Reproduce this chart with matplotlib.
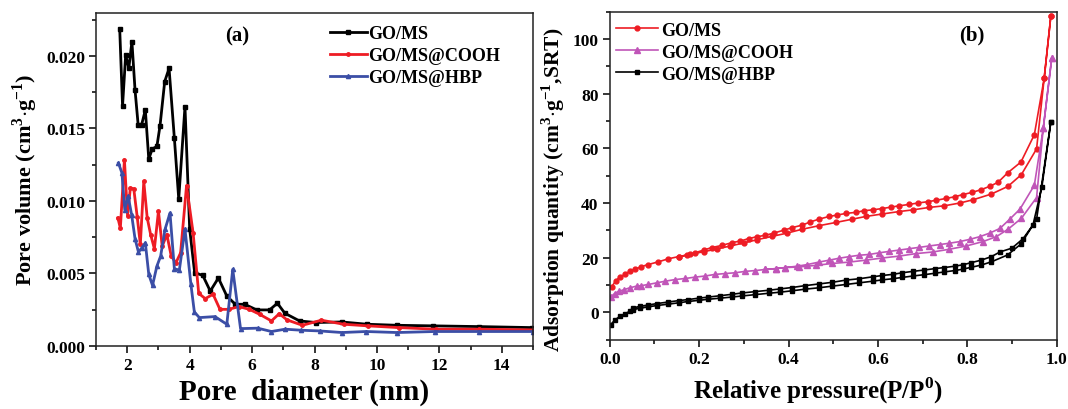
import numpy as np
import matplotlib.pyplot as plt
from matplotlib.ticker import MultipleLocator, FormatStrFormatter

plt.rcParams['font.family'] = 'Liberation Serif'
plt.rcParams['font.weight'] = 'bold'
plt.rcParams['mathtext.fontset'] = 'custom'
plt.rcParams['mathtext.rm'] = 'Liberation Serif:bold'
plt.rcParams['mathtext.bf'] = 'Liberation Serif:bold'

# ---- (a) pore size distribution ----
d_ms = [1.76, 1.85, 1.95, 2.05, 2.15, 2.25, 2.35, 2.46, 2.58, 2.69, 2.80, 2.95, 3.05, 3.20, 3.34,
        3.51, 3.65, 3.85, 4.00, 4.16, 4.42, 4.66, 4.92, 5.19, 5.46, 5.76, 6.15, 6.56, 6.81, 7.05,
        7.52, 8.04, 8.87, 9.69, 10.63, 11.80, 13.26, 14.97]
v_ms = [0.02183, 0.01656, 0.02007, 0.01915, 0.02099, 0.01766, 0.01525, 0.01525, 0.01628, 0.01289,
        0.01358, 0.01376, 0.01518, 0.01823, 0.01915, 0.01433, 0.01014, 0.01651, 0.00807, 0.00505,
        0.00486, 0.00378, 0.00468, 0.00344, 0.00287, 0.00287, 0.00248, 0.00248, 0.00294, 0.00225,
        0.00172, 0.00161, 0.00165, 0.00149, 0.00142, 0.00138, 0.00133, 0.00126]

d_cooh = [1.70, 1.78, 1.91, 2.01, 2.10, 2.21, 2.32, 2.42, 2.53, 2.64, 2.75, 2.87, 3.00, 3.12, 3.27,
          3.41, 3.56, 3.71, 3.90, 4.11, 4.29, 4.50, 4.75, 4.97, 5.25, 5.58, 5.91, 6.24, 6.62, 6.87,
          7.12, 7.61, 8.22, 8.94, 9.71, 10.70, 11.89, 13.28, 14.99]
v_cooh = [0.00883, 0.00812, 0.01284, 0.00899, 0.01089, 0.01083, 0.00890, 0.00700, 0.01135, 0.00883,
          0.00768, 0.00670, 0.00929, 0.00688, 0.00768, 0.00619, 0.00573, 0.00642, 0.01106, 0.00780,
          0.00362, 0.00326, 0.00356, 0.00252, 0.00252, 0.00271, 0.00252, 0.00218, 0.00172, 0.00222,
          0.00179, 0.00142, 0.00177, 0.00149, 0.00138, 0.00126, 0.00115, 0.00115, 0.00110]

d_hbp = [1.72, 1.83, 1.92, 2.03, 2.14, 2.25, 2.36, 2.47, 2.58, 2.69, 2.81, 2.95, 3.07, 3.21, 3.37,
         3.51, 3.67, 3.85, 4.04, 4.15, 4.31, 4.81, 5.19, 5.38, 5.63, 6.18, 6.62, 7.06, 7.56, 8.16,
         8.88, 9.65, 10.64, 11.85, 13.28, 14.99]
v_hbp = [0.01261, 0.01193, 0.00940, 0.01032, 0.00906, 0.00739, 0.00647, 0.00677, 0.00711, 0.00493,
         0.00417, 0.00550, 0.00619, 0.00803, 0.00917, 0.00532, 0.00523, 0.00807, 0.00424, 0.00234,
         0.00195, 0.00202, 0.00149, 0.00528, 0.00119, 0.00122, 0.00099, 0.00115, 0.00108, 0.00103,
         0.00092, 0.00099, 0.00092, 0.00099, 0.00099, 0.00099]

# ---- (b) N2 isotherms: adsorption branch then desorption branch ----
p_ms_ads = [0.004, 0.013, 0.022, 0.034, 0.045, 0.056, 0.070, 0.086, 0.109, 0.131, 0.154, 0.180, 0.210,
            0.240, 0.270, 0.300, 0.330, 0.363, 0.397, 0.430, 0.468, 0.506, 0.543, 0.573, 0.610, 0.648,
            0.678, 0.715, 0.749, 0.783, 0.813, 0.854, 0.891, 0.921, 0.955, 0.972, 0.987]
q_ms_ads = [9.3, 11.4, 12.9, 13.9, 15.1, 15.7, 16.7, 17.5, 18.5, 19.6, 20.4, 21.2, 22.2, 23.2, 24.3,
            25.4, 26.6, 27.8, 29.0, 30.4, 31.7, 32.9, 34.1, 35.1, 36.0, 36.9, 37.5, 38.4, 39.0, 40.0,
            41.2, 43.3, 46.1, 50.4, 59.8, 85.6, 108.5]
p_ms_des = [0.987, 0.972, 0.950, 0.920, 0.890, 0.869, 0.850, 0.831, 0.811, 0.790, 0.772, 0.753, 0.730,
            0.712, 0.689, 0.670, 0.648, 0.629, 0.610, 0.588, 0.569, 0.551, 0.528, 0.509, 0.491, 0.468,
            0.449, 0.430, 0.408, 0.390, 0.367, 0.348, 0.330, 0.311, 0.292, 0.273, 0.251, 0.228, 0.210,
            0.191, 0.172, 0.154]
q_ms_des = [108.5, 85.6, 65.0, 55.0, 51.0, 47.6, 46.1, 44.9, 43.9, 43.1, 42.3, 41.7, 41.0, 40.5, 40.0,
            39.5, 39.0, 38.5, 38.0, 37.5, 37.2, 36.6, 36.2, 35.6, 35.1, 34.1, 33.1, 31.9, 31.0, 30.1,
            29.0, 28.2, 27.7, 27.0, 26.1, 25.5, 24.5, 23.7, 22.8, 21.8, 20.9, 20.4]

p_cooh_ads = [0.002, 0.011, 0.020, 0.032, 0.045, 0.060, 0.071, 0.086, 0.105, 0.124, 0.146, 0.169, 0.191,
              0.213, 0.236, 0.258, 0.281, 0.303, 0.326, 0.348, 0.371, 0.393, 0.423, 0.461, 0.498, 0.536,
              0.573, 0.610, 0.648, 0.685, 0.723, 0.760, 0.798, 0.835, 0.865, 0.891, 0.921, 0.955, 0.970,
              0.989]
q_cooh_ads = [5.6, 6.9, 7.7, 8.3, 9.0, 9.6, 9.8, 10.2, 10.8, 11.4, 12.0, 12.4, 12.9, 13.3, 13.9, 14.2,
              14.5, 15.0, 15.3, 15.7, 16.0, 16.4, 16.6, 17.2, 17.9, 18.4, 19.1, 19.9, 20.6, 21.5, 22.1,
              23.1, 24.3, 25.9, 27.7, 30.4, 34.4, 42.0, 67.4, 93.1]
p_cooh_des = [0.989, 0.970, 0.950, 0.918, 0.895, 0.873, 0.850, 0.828, 0.805, 0.783, 0.760, 0.738, 0.715,
              0.693, 0.670, 0.648, 0.625, 0.603, 0.581, 0.558, 0.536, 0.513, 0.491, 0.468, 0.442, 0.420,
              0.393, 0.371, 0.348]
q_cooh_des = [93.1, 67.4, 46.5, 37.8, 34.1, 30.7, 29.0, 27.7, 26.7, 25.9, 25.3, 24.8, 24.3, 23.8, 23.3,
              22.8, 22.3, 21.8, 21.2, 20.9, 20.4, 19.8, 19.1, 18.4, 17.5, 16.9, 16.4, 16.0, 15.7]

p_hbp_ads = [0.002, 0.011, 0.022, 0.034, 0.045, 0.052, 0.067, 0.086, 0.105, 0.131, 0.154, 0.176, 0.199,
             0.221, 0.247, 0.273, 0.296, 0.326, 0.356, 0.382, 0.408, 0.438, 0.468, 0.498, 0.528, 0.558,
             0.588, 0.610, 0.633, 0.655, 0.678, 0.704, 0.727, 0.749, 0.772, 0.790, 0.809, 0.831, 0.854,
             0.890, 0.920, 0.955, 0.987]
q_hbp_ads = [-4.5, -2.9, -1.5, -0.5, 0.4, 1.0, 1.5, 2.0, 2.5, 3.0, 3.5, 4.0, 4.4, 4.8, 5.2, 5.6, 6.0,
             6.5, 7.0, 7.4, 7.9, 8.5, 9.0, 9.6, 10.2, 10.8, 11.4, 11.9, 12.3, 12.8, 13.3, 13.8, 14.3,
             14.8, 15.3, 15.8, 16.5, 17.3, 18.5, 21.0, 25.0, 34.0, 69.7]
p_hbp_des = [0.987, 0.967, 0.947, 0.925, 0.900, 0.873, 0.854, 0.831, 0.809, 0.790, 0.772, 0.749, 0.727,
             0.704, 0.678, 0.655, 0.633, 0.610, 0.588, 0.558, 0.528, 0.498, 0.468, 0.438, 0.408, 0.382,
             0.356, 0.326, 0.296, 0.273, 0.247, 0.221, 0.199, 0.176, 0.154, 0.131, 0.105, 0.086, 0.067,
             0.052]
q_hbp_des = [69.7, 46.0, 32.0, 27.0, 23.5, 22.1, 20.4, 19.1, 18.2, 17.4, 16.9, 16.4, 16.0, 15.5, 15.0,
             14.5, 13.9, 13.5, 13.0, 12.3, 11.8, 11.0, 10.4, 9.8, 9.1, 8.6, 8.1, 7.6, 7.1, 6.6, 6.1,
             5.6, 5.2, 4.7, 4.3, 3.8, 3.2, 2.7, 2.2, 1.6]

labels = ['GO/MS', 'GO/MS@COOH', 'GO/MS@HBP']

fig = plt.figure(figsize=(10.68, 4.10), dpi=100)
ax1 = fig.add_axes([0.0899, 0.154, 0.4092, 0.813])
ax2 = fig.add_axes([0.5709, 0.169, 0.4185, 0.800])


def style_axes(ax):
    for s in ax.spines.values():
        s.set_linewidth(1.1)
        s.set_color('#222222')
    ax.tick_params(which='both', direction='out', top=False, right=False, width=1.1,
                   labelsize=12.5, pad=3)
    ax.tick_params(which='major', length=5)
    ax.tick_params(which='minor', length=3)
    for lab in ax.get_xticklabels() + ax.get_yticklabels():
        lab.set_fontweight('bold')


# panel (a)
ax1.plot(d_ms, v_ms, color='black', lw=2, marker='s', ms=2.5, label=labels[0])
ax1.plot(d_cooh, v_cooh, color='#ee1c24', lw=2, marker='o', ms=2.5, label=labels[1])
ax1.plot(d_hbp, v_hbp, color='#3b4ea6', lw=2, marker='^', ms=3, label=labels[2])
ax1.set_xlim(1, 15)
ax1.set_ylim(0, 0.023)
ax1.xaxis.set_major_locator(MultipleLocator(2))
ax1.xaxis.set_minor_locator(MultipleLocator(1))
ax1.yaxis.set_major_locator(MultipleLocator(0.005))
ax1.yaxis.set_minor_locator(MultipleLocator(0.0025))
ax1.yaxis.set_major_formatter(FormatStrFormatter('%.3f'))
style_axes(ax1)
ax1.set_xlabel('Pore  diameter (nm)', fontsize=21, fontweight='bold')
ax1.xaxis.set_label_coords(0.476, -0.095)
ax1.set_ylabel(r'Pore volume (cm$^{3}$$\cdot$g$^{-1}$)', fontsize=16, fontweight='bold')
ax1.yaxis.set_label_coords(-0.128, 0.5)
ax1.text(0.323, 0.93, '(a)', transform=ax1.transAxes, fontsize=15, fontweight='bold',
         ha='center', va='center')
ax1.legend(loc='upper left', bbox_to_anchor=(0.535, 0.963), frameon=False, fontsize=13,
           handlelength=2.05, handletextpad=0.05, labelspacing=0.28, borderpad=0, borderaxespad=0)

# panel (b)
ax2.plot(p_ms_ads + p_ms_des, q_ms_ads + q_ms_des, color='#ee1c24', lw=1.2, marker='o', ms=3.5,
         label=labels[0])
ax2.plot(p_cooh_ads + p_cooh_des, q_cooh_ads + q_cooh_des, color='#c055b8', lw=1.2, marker='^',
         ms=4, label=labels[1])
ax2.plot(p_hbp_ads + p_hbp_des, q_hbp_ads + q_hbp_des, color='black', lw=1.2, marker='s', ms=3,
         label=labels[2])
ax2.set_xlim(0, 1.0)
ax2.set_ylim(-10, 110)
ax2.xaxis.set_major_locator(MultipleLocator(0.2))
ax2.xaxis.set_minor_locator(MultipleLocator(0.1))
ax2.yaxis.set_major_locator(MultipleLocator(20))
ax2.yaxis.set_minor_locator(MultipleLocator(10))
ax2.xaxis.set_major_formatter(FormatStrFormatter('%.1f'))
style_axes(ax2)
ax2.set_xlabel(r'Relative pressure(P/P$^{0}$)', fontsize=18, fontweight='bold')
ax2.xaxis.set_label_coords(0.466, -0.105)
ax2.set_ylabel(r'Adsorption quantity (cm$^{3}$$\cdot$g$^{-1}$,SRT)', fontsize=15.5,
               fontweight='bold')
ax2.yaxis.set_label_coords(-0.095, 0.46)
ax2.text(0.81, 0.932, '(b)', transform=ax2.transAxes, fontsize=15, fontweight='bold',
         ha='center', va='center')
ax2.legend(loc='upper left', bbox_to_anchor=(0.014, 0.97), frameon=False, fontsize=13,
           handlelength=2.3, handletextpad=0.2, labelspacing=0.28, borderpad=0, borderaxespad=0)

fig.savefig('out.png', dpi=100)
